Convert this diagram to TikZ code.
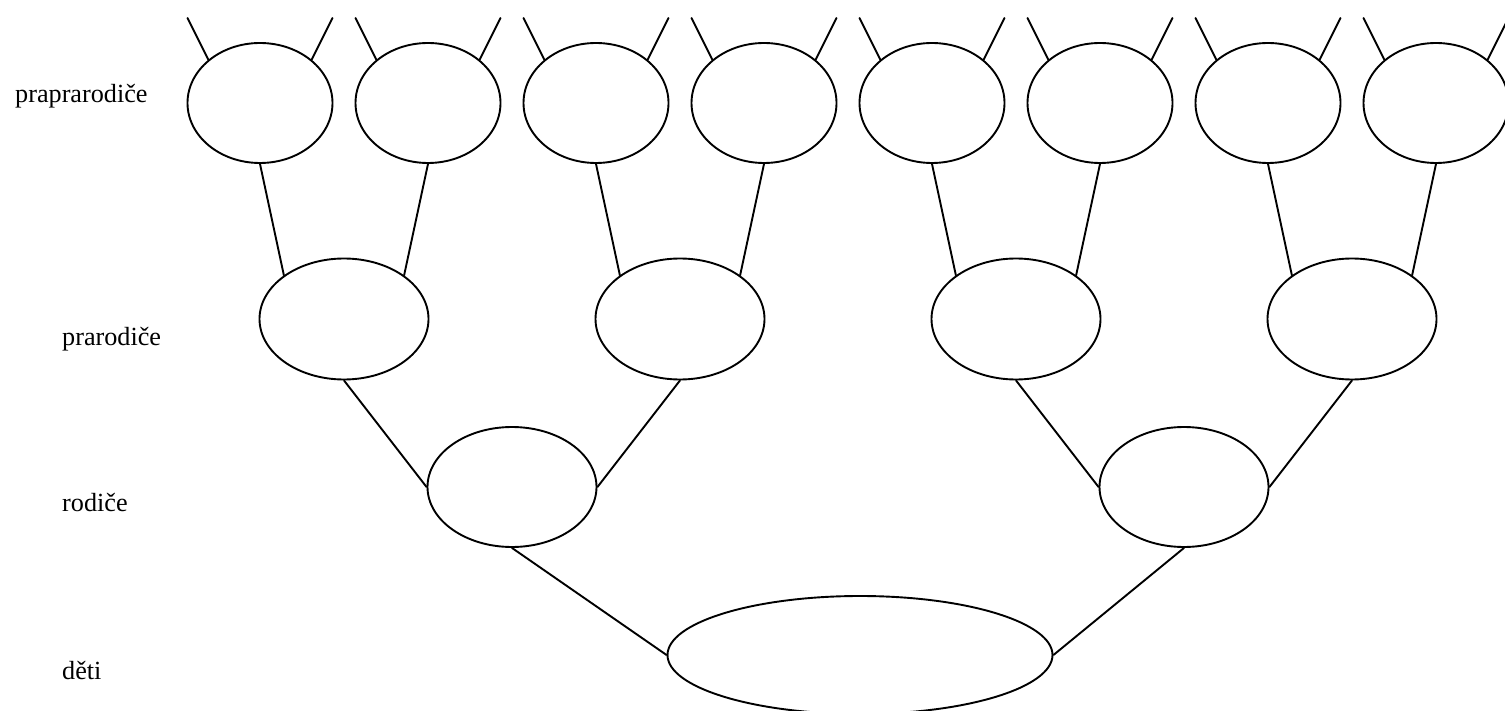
\documentclass[tikz,border=0pt]{standalone}
\usepackage{fontspec}
\setmainfont{Liberation Serif}
\usetikzlibrary{shapes.geometric}
\begin{document}
\begin{tikzpicture}[x=1pt,y=-1pt,
  conn/.style={line width=1.9pt, line cap=round},
  pers/.style={draw, ellipse, line width=1.9pt, inner sep=0pt, minimum height=120pt},
  gen1/.style={pers, minimum width=145pt},
  gen2/.style={pers, minimum width=169pt, minimum height=121pt},
  gen3/.style={pers, minimum width=169pt},
  gen4/.style={pers, minimum width=385pt, minimum height=118pt},
  lbl/.style={anchor=base west, inner sep=0pt, font=\fontsize{26.2}{30}\selectfont}]
\useasboundingbox (0,0) rectangle (1505,711);
\clip (0,0) rectangle (1505,711);
% labels
\node[lbl] (l1) at (15,102.5) {praprarodiče};
\node[lbl] (l2) at (62,345.5) {prarodiče};
\node[lbl] (l3) at (62,511.5) {rodiče};
\node[lbl] (l4) at (62,679) {děti};
% great-grandparents
\foreach \i/\x in {1/260,2/428,3/596,4/764,5/932,6/1100,7/1268,8/1436}{
  \node[gen1] (t\i) at (\x,103) {};
  \coordinate (tl\i) at ({\x-72.5},18);
  \coordinate (tr\i) at ({\x+72.5},18);
  \draw[conn] (tl\i) -- (t\i.140);
  \draw[conn] (tr\i) -- (t\i.40);
}
% grandparents
\foreach \i/\x in {1/344,2/680,3/1016,4/1352}{
  \node[gen2] (m\i) at (\x,319) {};
}
% parents
\node[gen3] (r1) at (512,487) {};
\node[gen3] (r2) at (1184,487) {};
% children
\node[gen4] (d) at (860,655) {};
% connectors
\foreach \m/\a/\b in {1/1/2,2/3/4,3/5/6,4/7/8}{
  \draw[conn] (t\a.south) -- (m\m.144);
  \draw[conn] (t\b.south) -- (m\m.36);
}
\draw[conn] (m1.south) -- (r1.west);
\draw[conn] (m2.south) -- (r1.east);
\draw[conn] (m3.south) -- (r2.west);
\draw[conn] (m4.south) -- (r2.east);
\draw[conn] (r1.south) -- (d.west);
\draw[conn] (r2.south) -- (d.east);
\end{tikzpicture}
\end{document}
